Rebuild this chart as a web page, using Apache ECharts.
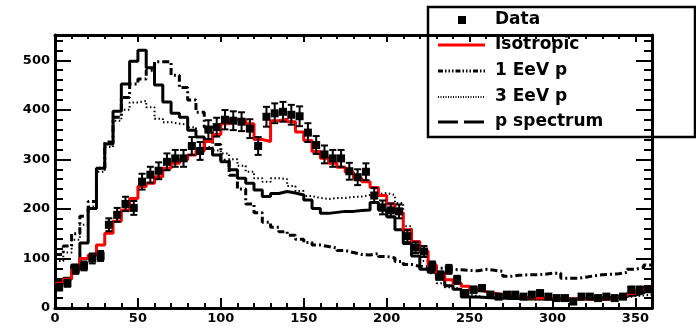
<!DOCTYPE html>
<html><head><meta charset="utf-8">
<script src="https://cdn.jsdelivr.net/npm/echarts@6/dist/echarts.min.js"></script>
<style>html,body{margin:0;padding:0;background:#fff}#c{width:696px;height:328px}</style>
</head><body><div id="c"></div>
<script>
// ---- data (5-degree bins from 0 to 360) ----
const binWidth = 5;
const xMin = 0, xMax = 360, yMin = 0, yMax = 551;
const dataCounts = [42,50,78,85,100,105,168,188,210,202, 255,269,277,295,302,302,327,317,360,365,
  380,378,376,362,327,386,393,396,390,387, 354,329,310,302,302,276,264,275,227,203,
  197,195,145,122,114,85,66,78,57,30, 37,40,27,23,27,27,23,27,30,23,
  20,20,13,23,23,20,23,20,23,37, 37,38];
const dataErrors = [6.5,7,9,9,10,10,13,14,14.5,14, 16,16,17,17,17,17,18,18,19,19,
  19.5,19,19,19,18,20,20,20,20,20, 19,18,18,17,17,17,16,17,15,14,
  14,14,12,11,11,9,8,9,8,5.5, 6,6,5,5,5,5,5,5,5.5,5,
  4.5,4.5,3.6,5,5,4.5,5,4.5,5,6, 6,6];
const isotropic = [50,58,77,100,107,127,151,175,198,221, 245,252,265,282,292,299,309,317,336,350,
  372,380,380,372,340,336,378,381,376,355, 338,316,302,292,284,274,262,255,243,227,
  210,192,158,134,115,87,70,57,50,44, 37,33,30,27,25,23,21,20,20,19,
  19,18,18,18,17,17,18,22,25,30, 35,42];
const eev1p = [108,125,150,185,215,282,335,385,425,452, 462,480,497,497,470,445,420,395,365,330,
  298,268,240,210,192,173,163,154,147,139, 132,127,124,121,116,112,108,107,110,104,
  101,94,88,84,83,80,80,78,77,76, 75,78,76,74,64,66,67,67,68,70,
  70,60,60,62,65,67,68,69,72,78, 82,87];
const eev3p = [95,112,138,168,205,275,325,378,400,415, 418,405,382,375,372,370,365,345,325,318,
  312,300,287,275,262,255,262,260,246,236, 226,222,220,222,222,224,225,228,230,232,
  228,212,165,125,95,70,50,42,38,28, 24,22,20,19,18,18,18,17,17,17,
  17,17,17,18,18,18,18,20,22,24, 25,27];
const pSpectrum = [55,60,87,131,201,282,331,397,452,498, 520,485,450,416,393,385,359,345,322,309,
  295,279,262,252,238,225,231,235,232,228, 218,201,191,193,195,195,197,198,213,198,
  184,158,130,105,78,72,58,45,38,22, 22,21,20,20,19,19,18,18,18,18,
  18,18,18,19,20,20,21,22,24,26, 30,35];
const legendNames = ['Data','Isotropic','1 EeV p','3 EeV p','p spectrum'];

// ---- helpers ----
function stepData(vals){
  const pts = vals.map((v,i)=>[i*binWidth, v]);
  pts.push([vals.length*binWidth, vals[vals.length-1]]);
  return pts;
}
const FONT = '"DejaVu Sans", sans-serif';
const chart = echarts.init(document.getElementById('c'), null, {renderer:'canvas'});

function xAx(pos, interval, tickLen, showLine, showLabel){
  return {type:'value', position:pos, min:xMin, max:xMax, interval:interval,
    axisLine:{show:showLine, onZero:false, lineStyle:{color:'#000', width:3}},
    axisTick:{show:true, inside:true, length:tickLen, lineStyle:{color:'#000', width:2}},
    axisLabel:{show:showLabel, color:'#000', fontFamily:FONT, fontWeight:'bold', fontSize:13, margin:4,
      formatter:v => (v % 50 === 0 && v < xMax) ? String(v) : ''},
    splitLine:{show:false}};
}
function yAx(pos, interval, tickLen, showLine, showLabel){
  return {type:'value', position:pos, min:yMin, max:yMax, interval:interval,
    axisLine:{show:showLine, onZero:false, lineStyle:{color:'#000', width:3}},
    axisTick:{show:true, inside:true, length:tickLen, lineStyle:{color:'#000', width:2}},
    axisLabel:{show:showLabel, color:'#000', fontFamily:FONT, fontWeight:'bold', fontSize:13, margin:5,
      formatter:v => (v % 100 === 0) ? String(v) : ''},
    splitLine:{show:false}};
}

const legX0 = 438, legX1 = 485, legTextX = 495;
const legY = [20, 45, 71, 97, 122];
const legendGraphic = {type:'group', z:100, children:[
  {type:'rect', shape:{x:428, y:7, width:267, height:130}, style:{fill:'#fff', stroke:'#000', lineWidth:2.5}},
  {type:'rect', shape:{x:458, y:legY[0]-4, width:8, height:8}, style:{fill:'#000'}},
  {type:'line', shape:{x1:legX0, y1:legY[1], x2:legX1, y2:legY[1]}, style:{stroke:'#ff0000', lineWidth:3}},
  {type:'line', shape:{x1:legX0, y1:legY[2], x2:legX1, y2:legY[2]}, style:{stroke:'#000', lineWidth:3, lineDash:[5,2,1.5,2,1.5,2,1.5,2]}},
  {type:'line', shape:{x1:legX0, y1:legY[3], x2:legX1, y2:legY[3]}, style:{stroke:'#000', lineWidth:2, lineDash:[1,1.5]}},
  {type:'line', shape:{x1:legX0, y1:legY[4], x2:legX1, y2:legY[4]}, style:{stroke:'#000', lineWidth:3, lineDash:[20,6]}}
].concat(legendNames.map((n,i)=>({type:'text', x:legTextX, y:legY[i],
  style:{text:n, fill:'#000', font:'bold 17px ' + FONT, textVerticalAlign:'middle', verticalAlign:'middle'}})))};

const option = {
  animation:false,
  backgroundColor:'#fff',
  grid:{left:55, right:44, top:35, bottom:20, containLabel:false, show:false},
  xAxis:[xAx('bottom',50,10,true,true), xAx('bottom',10,5,false,false), xAx('top',50,7,true,false), xAx('top',10,4,false,false)],
  yAxis:[yAx('left',100,16,true,true), yAx('left',20,8,false,false), yAx('right',100,16,true,false), yAx('right',20,8,false,false)],
  series:[
    {name:'3 EeV p', type:'line', step:'end', symbol:'none', data:stepData(eev3p), z:2,
      lineStyle:{color:'#000', width:2, type:[1.5,2.5]}},
    {name:'1 EeV p', type:'line', step:'end', symbol:'none', data:stepData(eev1p), z:2,
      lineStyle:{color:'#000', width:3, type:[7,3,2,3]}},
    {name:'p spectrum', type:'line', step:'end', symbol:'none', data:stepData(pSpectrum), z:3,
      lineStyle:{color:'#000', width:3}},
    {name:'Isotropic', type:'line', step:'end', symbol:'none', data:stepData(isotropic), z:4,
      lineStyle:{color:'#ff0000', width:3}},
    {name:'Data errors', type:'custom', z:5, clip:true,
      data:dataCounts.map((v,i)=>[i*binWidth+binWidth/2, v, dataErrors[i]]),
      encode:{x:0, y:1},
      renderItem:function(params, api){
        const x = api.value(0), y = api.value(1), e = api.value(2);
        const t = api.coord([x, y+e]), b = api.coord([x, y-e]);
        const hw = 3.5, st = {stroke:'#000', lineWidth:2};
        return {type:'group', children:[
          {type:'line', shape:{x1:t[0], y1:t[1], x2:b[0], y2:b[1]}, style:st},
          {type:'line', shape:{x1:t[0]-hw, y1:t[1], x2:t[0]+hw, y2:t[1]}, style:st},
          {type:'line', shape:{x1:b[0]-hw, y1:b[1], x2:b[0]+hw, y2:b[1]}, style:st}
        ]};
      }},
    {name:'Data', type:'scatter', symbol:'rect', symbolSize:8, z:6,
      itemStyle:{color:'#000', opacity:1, borderWidth:0},
      data:dataCounts.map((v,i)=>[i*binWidth+binWidth/2, v])}
  ],
  graphic:[legendGraphic]
};
chart.setOption(option);
</script>
</body></html>
